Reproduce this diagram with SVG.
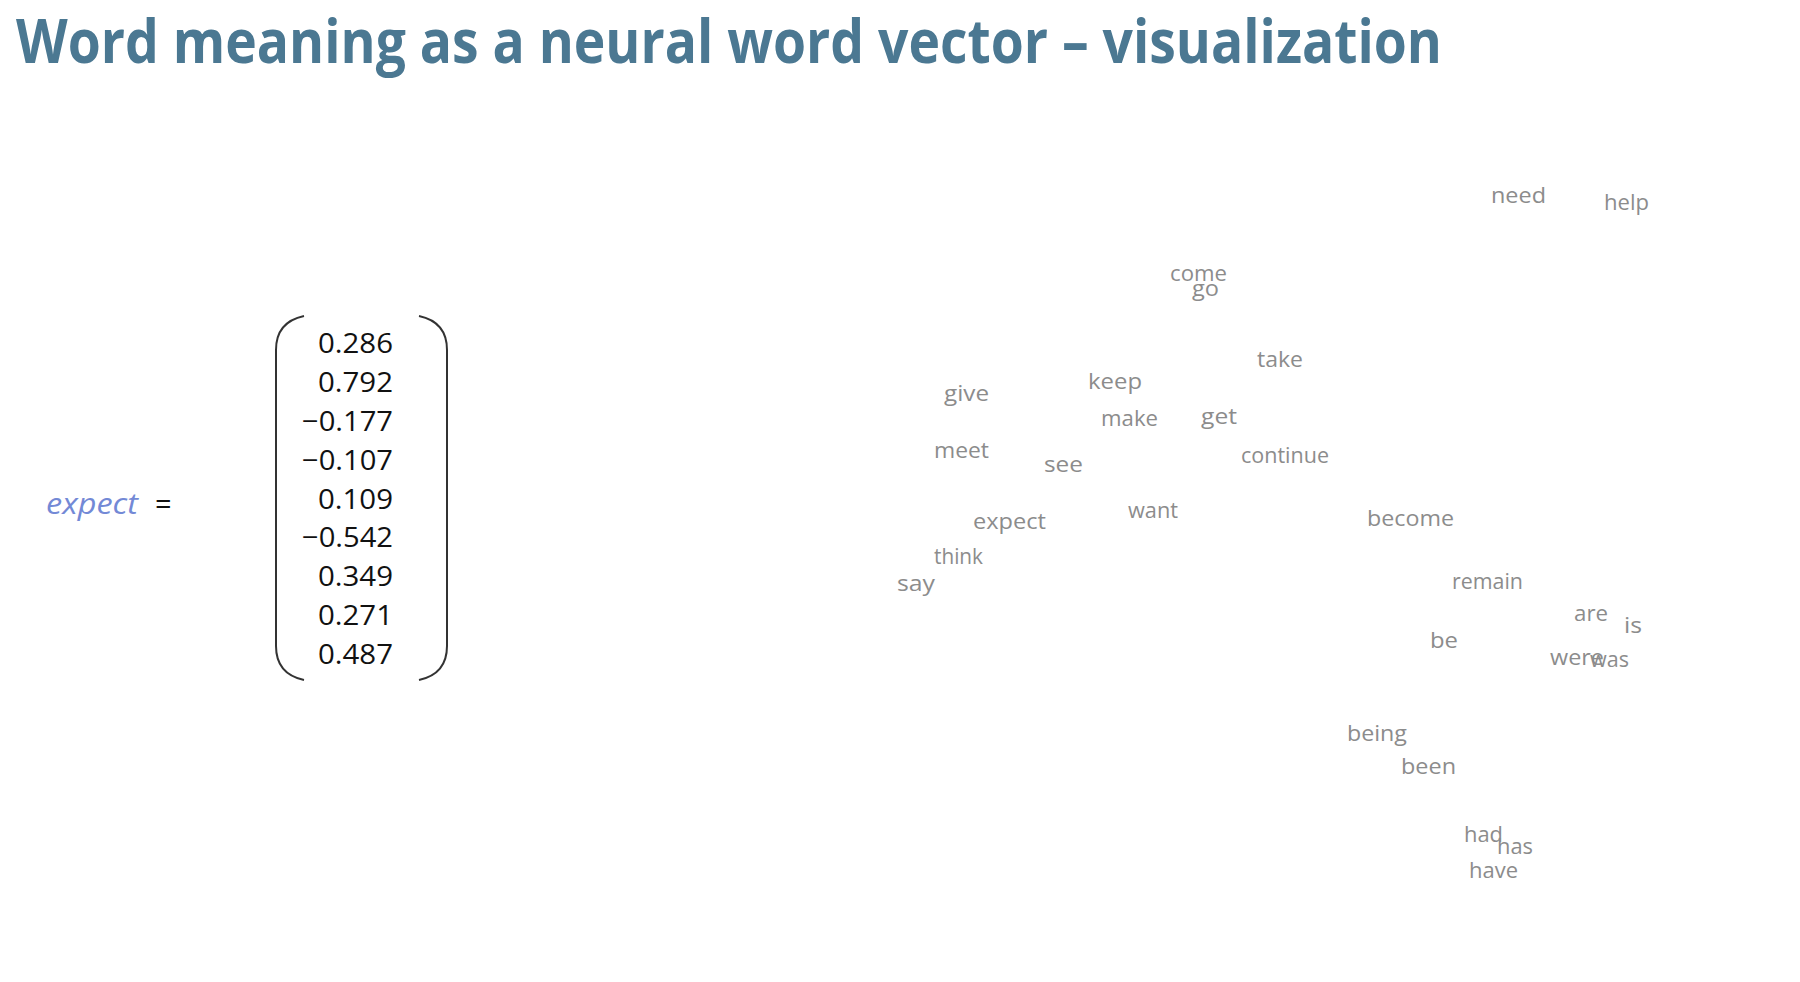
<svg xmlns="http://www.w3.org/2000/svg" width="1800" height="982" viewBox="0 0 1800 982">
<style>
.title{font-family:"Open Sans","Liberation Sans",sans-serif;font-weight:700;font-size:60px;fill:#4b7892}
.num{font-family:"Open Sans","Liberation Sans",sans-serif;font-size:28px;fill:#111;text-anchor:end}
.w{font-family:"Open Sans","Noto Sans",sans-serif;font-size:21px;fill:#8c8c8c}
.br{fill:none;stroke:#333;stroke-width:2}
</style>
<rect width="1800" height="982" fill="#fff"/>
<text class="title" x="16" y="63" textLength="1426" lengthAdjust="spacingAndGlyphs">Word meaning as a neural word vector – visualization</text>
<g id="vector">
<text x="46" y="514" font-family="Open Sans, Liberation Sans, sans-serif" font-style="italic" font-size="29" fill="#7389d6" textLength="92" lengthAdjust="spacingAndGlyphs">expect</text>
<text x="155" y="514" font-family="Open Sans, Liberation Sans, sans-serif" font-size="29" fill="#111">=</text>
<path class="br" d="M304,316 Q276,322 276,350 L276,646 Q276,674 304,680"/>
<path class="br" d="M419,316 Q447,322 447,350 L447,646 Q447,674 419,680"/>
<text class="num" x="393" y="353" textLength="75" lengthAdjust="spacingAndGlyphs">0.286</text>
<text class="num" x="393" y="392" textLength="75" lengthAdjust="spacingAndGlyphs">0.792</text>
<text class="num" x="393" y="431" textLength="91" lengthAdjust="spacingAndGlyphs">−0.177</text>
<text class="num" x="393" y="470" textLength="91" lengthAdjust="spacingAndGlyphs">−0.107</text>
<text class="num" x="393" y="509" textLength="75" lengthAdjust="spacingAndGlyphs">0.109</text>
<text class="num" x="393" y="547" textLength="91" lengthAdjust="spacingAndGlyphs">−0.542</text>
<text class="num" x="393" y="586" textLength="75" lengthAdjust="spacingAndGlyphs">0.349</text>
<text class="num" x="393" y="625" textLength="75" lengthAdjust="spacingAndGlyphs">0.271</text>
<text class="num" x="393" y="664" textLength="75" lengthAdjust="spacingAndGlyphs">0.487</text>
</g>
<g id="words">
<text class="w" x="1491" y="203" textLength="55" lengthAdjust="spacingAndGlyphs">need</text>
<text class="w" x="1604" y="210" textLength="45" lengthAdjust="spacingAndGlyphs">help</text>
<text class="w" x="1170" y="281" textLength="57" lengthAdjust="spacingAndGlyphs">come</text>
<text class="w" x="1192" y="296" textLength="27" lengthAdjust="spacingAndGlyphs">go</text>
<text class="w" x="1257" y="367" textLength="46" lengthAdjust="spacingAndGlyphs">take</text>
<text class="w" x="1088" y="389" textLength="54" lengthAdjust="spacingAndGlyphs">keep</text>
<text class="w" x="944" y="401" textLength="45" lengthAdjust="spacingAndGlyphs">give</text>
<text class="w" x="1101" y="426" textLength="57" lengthAdjust="spacingAndGlyphs">make</text>
<text class="w" x="1201" y="424" textLength="36" lengthAdjust="spacingAndGlyphs">get</text>
<text class="w" x="934" y="458" textLength="55" lengthAdjust="spacingAndGlyphs">meet</text>
<text class="w" x="1044" y="472" textLength="39" lengthAdjust="spacingAndGlyphs">see</text>
<text class="w" x="1241" y="463" textLength="88" lengthAdjust="spacingAndGlyphs">continue</text>
<text class="w" x="1128" y="518" textLength="50" lengthAdjust="spacingAndGlyphs">want</text>
<text class="w" x="973" y="529" textLength="73" lengthAdjust="spacingAndGlyphs">expect</text>
<text class="w" x="1367" y="526" textLength="87" lengthAdjust="spacingAndGlyphs">become</text>
<text class="w" x="934" y="564" textLength="49" lengthAdjust="spacingAndGlyphs">think</text>
<text class="w" x="897" y="591" textLength="38" lengthAdjust="spacingAndGlyphs">say</text>
<text class="w" x="1452" y="589" textLength="71" lengthAdjust="spacingAndGlyphs">remain</text>
<text class="w" x="1574" y="621" textLength="34" lengthAdjust="spacingAndGlyphs">are</text>
<text class="w" x="1624" y="633" textLength="18" lengthAdjust="spacingAndGlyphs">is</text>
<text class="w" x="1430" y="648" textLength="28" lengthAdjust="spacingAndGlyphs">be</text>
<text class="w" x="1550" y="665" textLength="54" lengthAdjust="spacingAndGlyphs">were</text>
<text class="w" x="1590" y="667" textLength="39" lengthAdjust="spacingAndGlyphs">was</text>
<text class="w" x="1347" y="741" textLength="60" lengthAdjust="spacingAndGlyphs">being</text>
<text class="w" x="1401" y="774" textLength="55" lengthAdjust="spacingAndGlyphs">been</text>
<text class="w" x="1464" y="842" textLength="39" lengthAdjust="spacingAndGlyphs">had</text>
<text class="w" x="1497" y="854" textLength="36" lengthAdjust="spacingAndGlyphs">has</text>
<text class="w" x="1469" y="878" textLength="49" lengthAdjust="spacingAndGlyphs">have</text>
</g>
</svg>
